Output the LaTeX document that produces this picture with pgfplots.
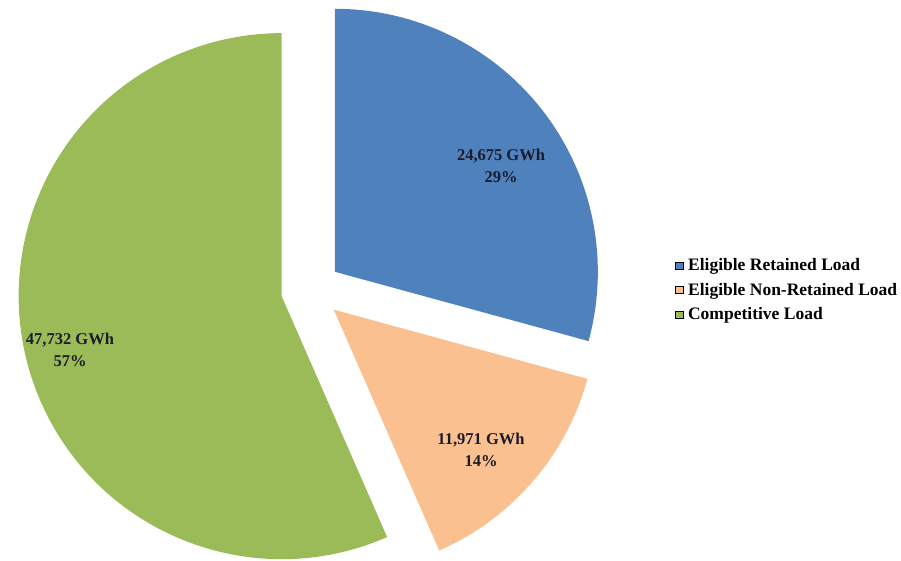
\documentclass[border=0pt]{standalone}
\usepackage{pgfplots}
\pgfplotsset{compat=1.18}
\usepackage{fontspec}
\setmainfont{Liberation Serif}
\definecolor{ertblue}{HTML}{4F81BD}
\definecolor{enrpeach}{HTML}{FAC090}
\definecolor{compgreen}{HTML}{9BBB59}
\definecolor{labeltext}{HTML}{1B1B2A}

% load in GWh
\def\va{24675}
\def\vb{11971}
\def\vc{47732}
% pie geometry (axis units = pt)
\def\cx{311}\def\cy{270}\def\rad{263}\def\expl{30}

\edef\tot{\fpeval{\va+\vb+\vc}}
\edef\aA{90}
\edef\aB{\fpeval{90-360*\va/\tot}}
\edef\aC{\fpeval{\aB-360*\vb/\tot}}
\edef\aD{-270}
\edef\mA{\fpeval{(\aA+\aB)/2}}
\edef\mB{\fpeval{(\aB+\aC)/2}}
\edef\mC{\fpeval{(\aC+\aD)/2}}
\edef\xA{\fpeval{\cx+\expl*cosd(\mA)}}\edef\yA{\fpeval{\cy+\expl*sind(\mA)}}
\edef\xB{\fpeval{\cx+\expl*cosd(\mB)}}\edef\yB{\fpeval{\cy+\expl*sind(\mB)}}
\edef\xC{\fpeval{\cx+\expl*cosd(\mC)}}\edef\yC{\fpeval{\cy+\expl*sind(\mC)}}

\begin{document}
\begin{tikzpicture}
\begin{axis}[
width=901pt,
height=560pt,
scale only axis,
xmin=0, xmax=901,
ymin=0, ymax=560,
hide axis,
clip=false,
legend style={
  draw=none, fill=none,
  at={(axis cs:675,270)}, anchor=west,
  font=\bfseries\fontsize{17.5}{19}\selectfont,
  row sep=8pt,
  inner sep=0pt,
  nodes={inner sep=1.5pt},
  /tikz/every odd column/.append style={column sep=3pt},
},
legend cell align=left,
legend image code/.code={\fill[#1] (0pt,-3.5pt) rectangle (8pt,3.5pt);},
]
\fill[ertblue] (axis cs:\xA,\yA) -- ++(\aA:\rad) arc[start angle=\aA, end angle=\aB, radius=\rad] -- cycle;
\fill[enrpeach] (axis cs:\xB,\yB) -- ++(\aB:\rad) arc[start angle=\aB, end angle=\aC, radius=\rad] -- cycle;
\fill[compgreen] (axis cs:\xC,\yC) -- ++(\aC:\rad) arc[start angle=\aC, end angle=\aD, radius=\rad] -- cycle;

\node[align=center, font=\bfseries\fontsize{16.5}{22}\selectfont, text=labeltext] at (axis cs:501,394) {24,675 GWh\\29\%};
\node[align=center, font=\bfseries\fontsize{16.5}{22}\selectfont, text=labeltext] at (axis cs:481,110) {11,971 GWh\\14\%};
\node[align=center, font=\bfseries\fontsize{16.5}{22}\selectfont, text=labeltext] at (axis cs:70,210) {47,732 GWh\\57\%};

\addlegendimage{fill=ertblue}
\addlegendentry{Eligible Retained Load}
\addlegendimage{fill=enrpeach}
\addlegendentry{Eligible Non-Retained Load}
\addlegendimage{fill=compgreen}
\addlegendentry{Competitive Load}
\end{axis}
\pgfresetboundingbox
\useasboundingbox (current axis.south west) rectangle (current axis.north east);
\end{tikzpicture}
\end{document}
